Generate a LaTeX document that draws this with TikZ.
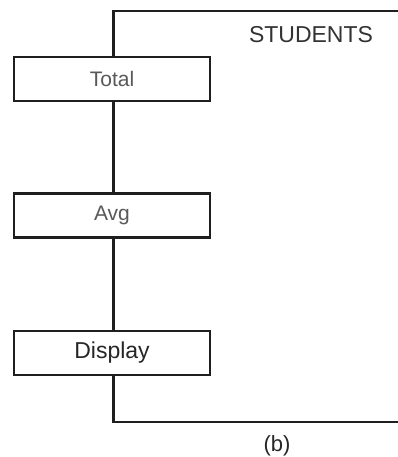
\documentclass[tikz,border=0pt]{standalone}
\usepackage{fontspec}
\setmainfont{Liberation Sans}
\begin{document}
\begin{tikzpicture}[x=1pt,y=-1pt,
  ln/.style={line width=2.1pt,draw=black!88},
  box/.style={ln,rectangle,minimum width=196pt,minimum height=44pt,inner sep=0pt,fill=white},
  lbl/.style={font=\fontsize{21}{24}\selectfont}]
\useasboundingbox (0,0) rectangle (398,457);
\node[box,lbl,text=black!65] (total) at (112,79) {Total};
\node[box,lbl,text=black!65] (avg) at (112,215.5) {Avg};
\node[box,lbl,text=black!85,font=\fontsize{23}{26}\selectfont] (disp) at (112,353) {Display};
\coordinate (tl) at (113.5,11);
\coordinate (tr) at (399,11);
\coordinate (bl) at (113.5,422);
\coordinate (br) at (399,422);
\node[lbl,text=black!80,font=\fontsize{23}{26}\selectfont] (stu) at (311,35) {STUDENTS};
\node[text=black!85,font=\fontsize{22}{26}\selectfont] (cap) at (277,446) {(b)};
\draw[ln,line cap=rect] (tr) -- (tl) -- (total.north -| tl);
\draw[ln] (total.south -| tl) -- (avg.north -| tl);
\draw[ln] (avg.south -| tl) -- (disp.north -| tl);
\draw[ln,line cap=rect] (disp.south -| tl) -- (bl) -- (br);
\end{tikzpicture}
\end{document}
